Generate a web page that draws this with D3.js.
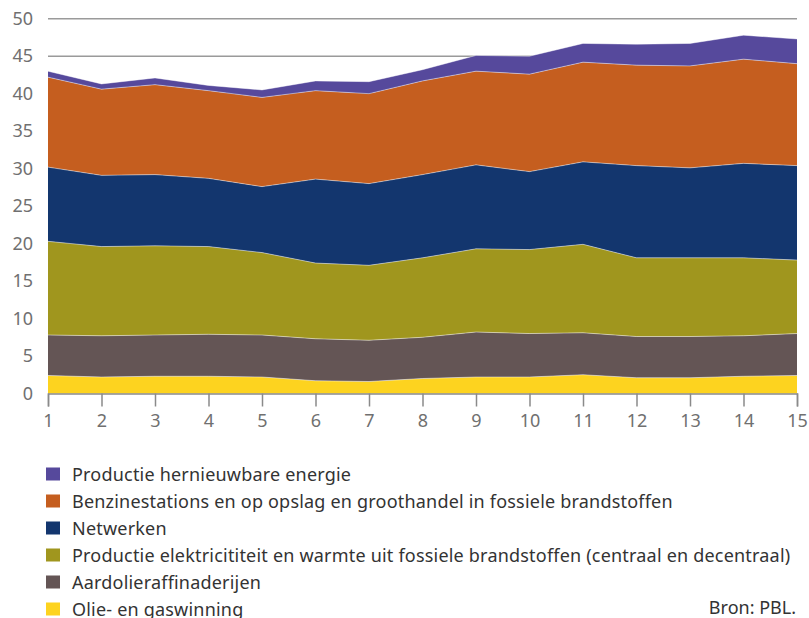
<!DOCTYPE html>
<html><head><meta charset="utf-8">
<script src="https://cdn.jsdelivr.net/npm/d3@7"></script>
<style>body{margin:0;background:#fff}svg{display:block}text{font-family:"Noto Sans",sans-serif}</style>
</head><body><svg id="c" width="809" height="618"></svg>
<script>
const years = [1,2,3,4,5,6,7,8,9,10,11,12,13,14,15];
const yTicks = [0,5,10,15,20,25,30,35,40,45,50];
const olieGas = [2.4,2.2,2.3,2.3,2.2,1.7,1.6,2.0,2.2,2.2,2.5,2.1,2.1,2.3,2.4];
const raffinaderijen = [5.4,5.5,5.5,5.6,5.6,5.6,5.5,5.5,6.0,5.8,5.6,5.5,5.5,5.4,5.6];
const elektriciteit = [12.5,11.9,11.9,11.7,11.0,10.1,10.0,10.6,11.1,11.2,11.8,10.5,10.5,10.4,9.8];
const netwerken = [9.9,9.5,9.5,9.1,8.8,11.2,10.9,11.1,11.2,10.4,11.0,12.3,12.0,12.6,12.6];
const benzine = [12.0,11.5,12.0,11.7,11.9,11.8,12.0,12.5,12.5,13.0,13.3,13.4,13.6,13.9,13.6];
const hernieuwbaar = [0.8,0.7,0.9,0.7,1.0,1.3,1.6,1.5,2.1,2.4,2.5,2.8,3.0,3.2,3.3];

const seriesNames = ["Olie- en gaswinning","Aardolieraffinaderijen","Productie elektricititeit en warmte uit fossiele brandstoffen (centraal en decentraal)","Netwerken","Benzinestations en op opslag en groothandel in fossiele brandstoffen","Productie hernieuwbare energie"];
const seriesValues = [olieGas, raffinaderijen, elektriciteit, netwerken, benzine, hernieuwbaar];
const colors = ["#fdd31f","#645555","#a0961e","#13366e","#c55e1f","#56499c"];
const source = "Bron: PBL.";

const svg = d3.select("#c");
const m = {l:48, r:797, t:18.7, b:393.5};
const x = d3.scaleLinear().domain([1,15]).range([m.l, m.r]);
const y = d3.scaleLinear().domain([0,50]).range([m.b, m.t]);

const table = years.map((yr,i)=>{const o={year:yr}; seriesNames.forEach((n,k)=>o[n]=seriesValues[k][i]); return o;});
const stacked = d3.stack().keys(seriesNames)(table);

svg.append("g").selectAll("line").data(yTicks.filter(d=>d>0)).join("line")
  .attr("x1", m.l).attr("x2", m.r).attr("y1", d=>y(d)).attr("y2", d=>y(d))
  .attr("stroke","#9a9a9a").attr("stroke-width",1.5);

const area = d3.area().x(d=>x(d.data.year)).y0(d=>y(d[0])).y1(d=>y(d[1]));
const topLine = d3.line().x(d=>x(d.data.year)).y(d=>y(d[1]));
svg.append("g").selectAll("path").data(stacked).join("path")
  .attr("d", area).attr("fill",(d,i)=>colors[i]);
svg.append("g").selectAll("path").data(stacked).join("path")
  .attr("d", topLine).attr("fill","none").attr("stroke","rgba(255,255,255,0.45)").attr("stroke-width",1);

svg.append("g").selectAll("text").data(yTicks).join("text")
  .attr("x", 33).attr("y", d=>y(d)).attr("dy","0.35em").attr("text-anchor","end")
  .attr("font-size",18).attr("fill","#707070").text(d=>d);

const xa = svg.append("g").attr("transform",`translate(0,${m.b})`)
  .call(d3.axisBottom(x).tickValues(years).tickFormat(d3.format("d")).tickSize(13).tickPadding(8));
xa.select(".domain").attr("stroke","#8a8a8a").attr("stroke-width",1.5);
xa.selectAll(".tick line").attr("stroke","#8a8a8a").attr("stroke-width",1.5);
xa.selectAll(".tick text").attr("font-size",18).attr("fill","#707070")
  .style("font-family",'"Noto Sans",sans-serif');

const legOrder = d3.range(seriesNames.length).reverse();
const lg = svg.append("g").selectAll("g").data(legOrder).join("g")
  .attr("transform",(d,i)=>`translate(46,${474 + i*27})`);
lg.append("rect").attr("x",0).attr("y",-6.5).attr("width",14).attr("height",13).attr("fill",d=>colors[d]);
lg.append("text").attr("x",26).attr("y",6.5).attr("font-size",18).attr("letter-spacing","0.2px").attr("fill","#333")
  .text(d=>seriesNames[d]);

svg.append("text").attr("x",796).attr("y",614).attr("text-anchor","end")
  .attr("font-size",18).attr("fill","#333").text(source);
</script></body></html>
